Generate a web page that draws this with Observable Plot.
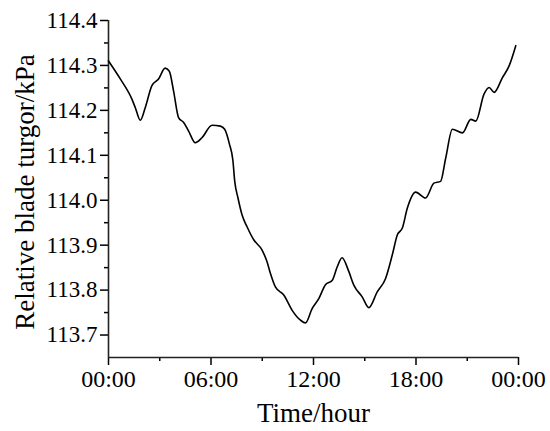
<!DOCTYPE html>
<html>
<head>
<meta charset="utf-8">
<script src="https://cdn.jsdelivr.net/npm/d3@7"></script>
<script src="https://cdn.jsdelivr.net/npm/@observablehq/plot@0.6"></script>
<style>
  html, body { margin: 0; padding: 0; background: #fff; }
</style>
</head>
<body>
<div id="chart"></div>
<script>
const hours = [0, 0.69, 1.37, 1.57, 1.86, 2.15, 2.54, 2.93, 3.32, 3.56, 3.81, 4.10, 4.40, 4.69, 5.08, 5.47, 6.06, 6.55, 6.80, 7.08, 7.28, 7.39, 7.58, 7.82, 8.11, 8.50, 8.99, 9.28, 9.48, 9.77, 10.26, 10.75, 11.24, 11.53, 11.92, 12.31, 12.70, 13.10, 13.39, 13.67, 14.07, 14.36, 14.85, 15.24, 15.73, 16.22, 16.61, 16.91, 17.20, 17.49, 17.98, 18.56, 19.05, 19.44, 19.74, 20.13, 20.72, 21.21, 21.50, 21.98, 22.28, 22.57, 23.06, 23.45, 23.84];
const turgor = [114.31, 114.27, 114.225, 114.206, 114.178, 114.206, 114.255, 114.27, 114.294, 114.287, 114.243, 114.184, 114.173, 114.154, 114.128, 114.139, 114.167, 114.165, 114.158, 114.125, 114.089, 114.042, 114.005, 113.967, 113.941, 113.912, 113.889, 113.863, 113.837, 113.807, 113.789, 113.755, 113.733, 113.727, 113.759, 113.781, 113.812, 113.822, 113.852, 113.872, 113.841, 113.811, 113.785, 113.761, 113.796, 113.826, 113.878, 113.923, 113.938, 113.982, 114.018, 114.005, 114.038, 114.042, 114.094, 114.158, 114.15, 114.18, 114.176, 114.236, 114.251, 114.24, 114.273, 114.299, 114.344];

const xTicks = [0, 6, 12, 18, 24];
const xTickLabels = ["00:00", "06:00", "12:00", "18:00", "00:00"];
const xMinorTicks = [3, 9, 15, 21];
const yTicks = [113.7, 113.8, 113.9, 114.0, 114.1, 114.2, 114.3, 114.4];
const yMinorTicks = [113.75, 113.85, 113.95, 114.05, 114.15, 114.25, 114.35];
const xTitle = "Time/hour";
const yTitle = "Relative blade turgor/kPa";

const data = hours.map((h, i) => ({h, v: turgor[i]}));

const chart = Plot.plot({
  width: 550,
  height: 431,
  marginLeft: 108,
  marginRight: 32,
  marginTop: 20,
  marginBottom: 74,
  x: {domain: [0, 24]},
  y: {domain: [113.65, 114.4]},
  style: {fontFamily: "'Liberation Serif', serif", fontSize: "23px", color: "#000", background: "#fff"},
  marks: [
    Plot.axisX({ticks: xTicks, tickSize: 8, tickPadding: 4, strokeWidth: 1.5, fontSize: 24, label: null,
      tickFormat: d => xTickLabels[xTicks.indexOf(d)]}),
    Plot.axisX({ticks: xMinorTicks, tickSize: 4, strokeWidth: 1.5, text: null, label: null}),
    Plot.axisY({ticks: yTicks, tickSize: 8, tickPadding: 3, strokeWidth: 1.5, fontSize: 23, label: null,
      tickFormat: d => d.toFixed(1)}),
    Plot.axisY({ticks: yMinorTicks, tickSize: 4, strokeWidth: 1.5, text: null, label: null}),
    Plot.ruleY([113.65], {x1: 0, x2: 24, strokeWidth: 1.6, stroke: "#222"}),
    Plot.ruleX([0], {y1: 113.65, y2: 114.4, strokeWidth: 1.6, stroke: "#222"}),
    Plot.lineY(data, {x: "h", y: "v", curve: "monotone-x", strokeWidth: 1.6, stroke: "#000"}),
    Plot.text([xTitle], {text: d => d, frameAnchor: "bottom", dy: 64, lineAnchor: "bottom", textAnchor: "middle", fontSize: 27}),
    Plot.text([yTitle], {text: d => d, frameAnchor: "left", dx: -75, dy: 3, rotate: -90, lineAnchor: "bottom", textAnchor: "middle", fontSize: 27})
  ]
});
document.getElementById("chart").appendChild(chart);
</script>
</body>
</html>
